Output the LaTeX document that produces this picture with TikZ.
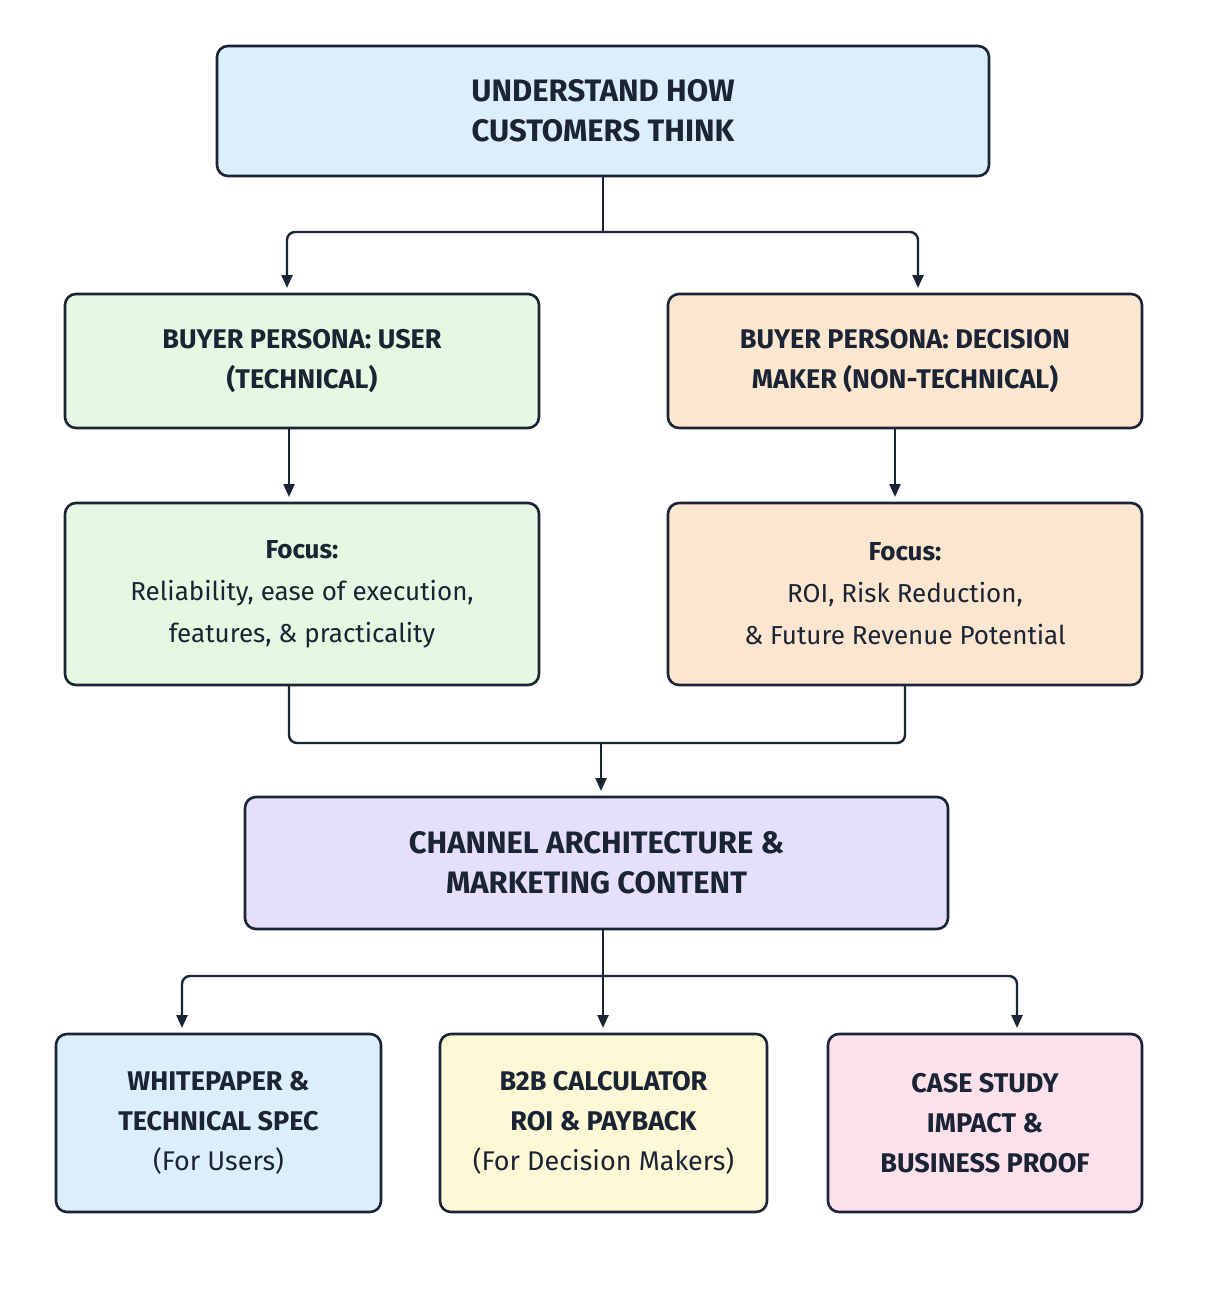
\documentclass[tikz,border=0pt]{standalone}
\usepackage{fontspec}
\setmainfont{Fira Sans}
\usetikzlibrary{arrows.meta}
\definecolor{ink}{HTML}{1B2434}
\definecolor{cblue}{HTML}{DDEEFB}
\definecolor{cgreen}{HTML}{E6F8E1}
\definecolor{corange}{HTML}{FDE6CF}
\definecolor{clav}{HTML}{E5DFFA}
\definecolor{cyellow}{HTML}{FDF8D5}
\definecolor{cpink}{HTML}{FCE1EC}
\tikzset{
 x=1pt,y=-1pt,
 box/.style={draw=ink,line width=2.6pt,rounded corners=11pt,text=ink,align=center,inner sep=0pt},
 conn/.style={draw=ink,line width=2.4pt},
 arr/.style={conn,-{Triangle[length=13pt,width=11pt]}},
 big/.style={font=\fontsize{31}{40}\selectfont\bfseries},
 mid/.style={font=\fontsize{27}{40}\selectfont\bfseries},
 body/.style={font=\fontsize{26}{42}\selectfont},
}
\newcommand{\bx}[7]{\node[box,fill=#6,minimum width=#3-#1,minimum height=#4-#2,#7] (#5) at ({(#1+#3)/2},{(#2+#4)/2}) {};}
\begin{document}
\begin{tikzpicture}
\fill[white] (0,0) rectangle (1208,1302);
\bx{217}{46}{989}{176}{top}{cblue}{}
\node[big,text=ink,align=center] at (top) {UNDERSTAND HOW\\CUSTOMERS THINK};
\bx{65}{294}{539}{428}{pl}{cgreen}{}
\node[mid,text=ink,align=center] at (pl) {BUYER PERSONA: USER\\(TECHNICAL)};
\bx{668}{294}{1142}{428}{pr}{corange}{}
\node[mid,text=ink,align=center] at (pr) {BUYER PERSONA: DECISION\\MAKER (NON-TECHNICAL)};
\bx{65}{503}{539}{685}{fl}{cgreen}{}
\node[body,text=ink,align=center] at (fl) {\textbf{Focus:}\\Reliability, ease of execution,\\features, \& practicality};
\bx{668}{503}{1142}{685}{fr}{corange}{}
\node[body,text=ink,align=center] at (fr) {\textbf{Focus:}\\ROI, Risk Reduction,\\\& Future Revenue Potential};
\bx{245}{797}{948}{929}{ch}{clav}{}
\node[big,text=ink,align=center] at (ch) {CHANNEL ARCHITECTURE \&\\MARKETING CONTENT};
\bx{56}{1034}{381}{1212}{b1}{cblue}{}
\node[mid,text=ink,align=center] at (b1) {WHITEPAPER \&\\TECHNICAL SPEC\\\mdseries(For Users)};
\bx{440}{1034}{767}{1212}{b2}{cyellow}{}
\node[mid,text=ink,align=center] at (b2) {B2B CALCULATOR\\ROI \& PAYBACK\\\mdseries(For Decision Makers)};
\bx{828}{1034}{1142}{1212}{b3}{cpink}{}
\node[mid,text=ink,align=center] at (b3) {CASE STUDY\\IMPACT \&\\BUSINESS PROOF};
% connectors
\coordinate (s1) at (603,232);
\draw[conn] (603,176) -- (s1);
\draw[arr,rounded corners=8pt] (s1) -| (287,288);
\draw[arr,rounded corners=8pt] (s1) -| (918,288);
\draw[arr] (289,428) -- (289,497);
\draw[arr] (895,428) -- (895,497);
\coordinate (m1) at (601,743);
\draw[conn,rounded corners=8pt] (289,685) |- (m1) -| (905,685);
\draw[arr] (m1) -- (601,791);
\coordinate (s2) at (603,976);
\draw[arr] (603,929) -- (603,1028);
\draw[arr,rounded corners=8pt] (s2) -| (182,1028);
\draw[arr,rounded corners=8pt] (s2) -| (1017,1028);
\end{tikzpicture}
\end{document}
